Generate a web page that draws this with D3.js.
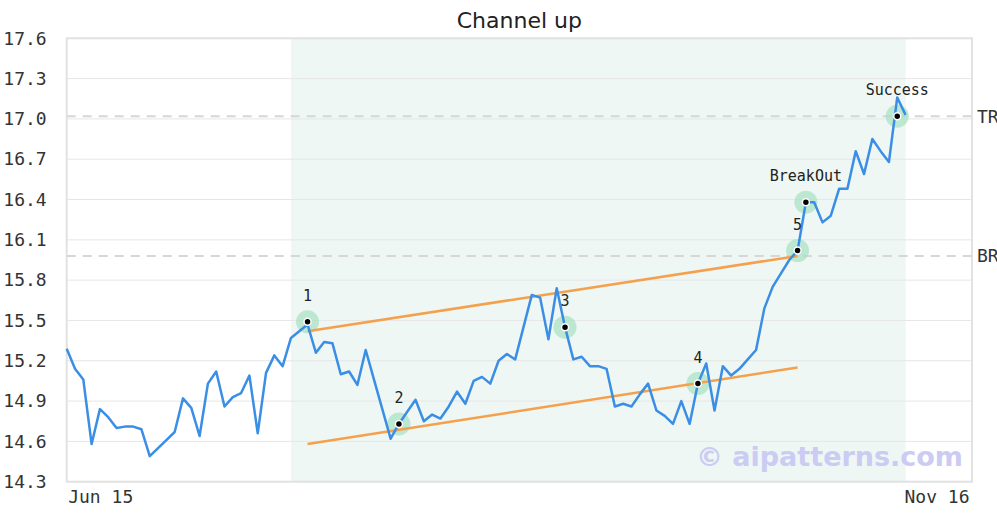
<!DOCTYPE html>
<html>
<head>
<meta charset="utf-8">
<script src="https://cdn.jsdelivr.net/npm/d3@7.9.0/dist/d3.min.js"></script>
<style>
  body { margin: 0; background: #fff; }
  svg { display: block; }
</style>
</head>
<body>
<svg id="chart" width="997" height="522"></svg>
<script>
// ---- data ----
const prices = [
  15.29, 15.14, 15.06, 14.58, 14.84, 14.78, 14.70, 14.71, 14.71, 14.69,
  14.49, 14.55, 14.61, 14.67, 14.92, 14.85, 14.64, 15.03, 15.12, 14.86,
  14.93, 14.96, 15.09, 14.66, 15.11, 15.24, 15.16, 15.37, 15.42, 15.47,
  15.26, 15.34, 15.33, 15.10, 15.12, 15.02, 15.28, 15.06, 14.84, 14.62,
  14.73, 14.82, 14.91, 14.75, 14.80, 14.77, 14.86, 14.97, 14.88, 15.05,
  15.08, 15.03, 15.20, 15.25, 15.21, 15.45, 15.69, 15.67, 15.36, 15.74,
  15.45, 15.21, 15.23, 15.16, 15.16, 15.14, 14.86, 14.88, 14.86, 14.95,
  15.03, 14.83, 14.79, 14.73, 14.90, 14.73, 15.03, 15.18, 14.83, 15.16,
  15.09, 15.14, 15.21, 15.28, 15.59, 15.75, 15.85, 15.95, 16.02, 16.38,
  16.38, 16.23, 16.28, 16.48, 16.48, 16.76, 16.59, 16.85, 16.76, 16.68,
  17.16, 17.03
];

const yTicks = [14.3, 14.6, 14.9, 15.2, 15.5, 15.8, 16.1, 16.4, 16.7, 17.0, 17.3, 17.6];
const xTickIdx = [0, 109];
const xTickLabels = ["Jun 15", "Nov 16"];

const pointLabels = ["1", "2", "3", "4", "5", "BreakOut", "Success"];
const pointIdx = [29, 40, 60, 76, 88, 89, 100];
const pointVals = [15.49, 14.73, 15.45, 15.03, 16.02, 16.38, 17.02];

const upperLine = [[29, 15.42], [88, 15.98]];
const lowerLine = [[29, 14.58], [88, 15.15]];

const levelNames = ["TR", "BR"];
const levelVals = [17.02, 15.98];

const patternSpan = [27, 101];

// ---- layout ----
const W = 997, H = 522;
const margin = { top: 38.3, right: 25, bottom: 40.3, left: 66.7 };
const svg = d3.select("#chart");

const x = d3.scaleLinear().domain([0, 109]).range([margin.left, W - margin.right]);
const y = d3.scaleLinear().domain([14.3, 17.6]).range([H - margin.bottom, margin.top]);

const mono = "'DejaVu Sans Mono', monospace";

// shaded pattern zone
svg.append("rect")
  .attr("x", x(patternSpan[0]))
  .attr("y", y(17.6))
  .attr("width", x(patternSpan[1]) - x(patternSpan[0]))
  .attr("height", y(14.3) - y(17.6))
  .attr("fill", "#eef7f3");

// horizontal grid
svg.append("g")
  .selectAll("line")
  .data(yTicks)
  .join("line")
  .attr("x1", x(0)).attr("x2", x(109))
  .attr("y1", d => y(d)).attr("y2", d => y(d))
  .attr("stroke", "#e6e6e6")
  .attr("stroke-width", 1);

// plot frame
svg.append("rect")
  .attr("x", x(0)).attr("y", y(17.6))
  .attr("width", x(109) - x(0))
  .attr("height", y(14.3) - y(17.6))
  .attr("fill", "none")
  .attr("stroke", "#e2e2e2")
  .attr("stroke-width", 2);

// y axis
const yAxis = svg.append("g")
  .attr("transform", `translate(${margin.left},0)`)
  .call(d3.axisLeft(y).tickValues(yTicks).tickFormat(d3.format(".1f")).tickSize(0).tickPadding(20));
yAxis.select(".domain").remove();
yAxis.selectAll("text")
  .attr("font-family", mono).attr("font-size", 18).attr("fill", "#333");

// x axis
const xAxis = svg.append("g")
  .attr("transform", `translate(0,${H - margin.bottom})`)
  .call(d3.axisBottom(x).tickValues(xTickIdx).tickFormat((d, i) => xTickLabels[i]).tickSize(0).tickPadding(9));
xAxis.select(".domain").remove();
xAxis.selectAll("text")
  .attr("font-family", mono).attr("font-size", 18).attr("fill", "#333")
  .attr("text-anchor", (d, i) => i === 0 ? "start" : "end")
  .attr("dx", (d, i) => i === 0 ? 1 : -3);

// target / breakout levels
levelVals.forEach((v, i) => {
  svg.append("line")
    .attr("x1", x(0)).attr("x2", x(109))
    .attr("y1", y(v)).attr("y2", y(v))
    .attr("stroke", "#d6d6d6")
    .attr("stroke-width", 2)
    .attr("stroke-dasharray", "9,7");
  svg.append("text")
    .attr("x", x(109) + 5)
    .attr("y", y(v))
    .attr("dy", "0.35em")
    .attr("font-family", mono).attr("font-size", 18).attr("fill", "#333")
    .text(levelNames[i]);
});

// watermark
svg.append("text")
  .attr("x", 963).attr("y", 466)
  .attr("text-anchor", "end")
  .attr("font-family", "'DejaVu Sans', sans-serif")
  .attr("font-weight", "bold")
  .attr("font-size", 27)
  .attr("fill", "#cbcbf4")
  .text("© aipatterns.com");

// halos
const pts = pointIdx.map((d, i) => ({ i: d, v: pointVals[i], label: pointLabels[i] }));
svg.append("g")
  .selectAll("circle")
  .data(pts)
  .join("circle")
  .attr("cx", d => x(d.i)).attr("cy", d => y(d.v))
  .attr("r", 11.5)
  .attr("fill", "#a6dfc2")
  .attr("opacity", 0.7);

// channel lines
const seg = d3.line().x(d => x(d[0])).y(d => y(d[1]));
[upperLine, lowerLine].forEach(l => {
  svg.append("path")
    .attr("d", seg(l))
    .attr("fill", "none")
    .attr("stroke", "#f5a04c")
    .attr("stroke-width", 2.5);
});

// price line
svg.append("path")
  .datum(prices)
  .attr("d", d3.line().x((d, i) => x(i)).y(d => y(d)))
  .attr("fill", "none")
  .attr("stroke", "#3a8ee6")
  .attr("stroke-width", 2.5)
  .attr("stroke-linejoin", "round");

// dots
svg.append("g")
  .selectAll("circle")
  .data(pts)
  .join("circle")
  .attr("cx", d => x(d.i)).attr("cy", d => y(d.v))
  .attr("r", 3.5)
  .attr("fill", "#000")
  .attr("stroke", "#fff")
  .attr("stroke-width", 1.5);

// point labels
svg.append("g")
  .selectAll("text")
  .data(pts)
  .join("text")
  .attr("x", d => x(d.i)).attr("y", d => y(d.v) - 21)
  .attr("text-anchor", "middle")
  .attr("font-family", mono).attr("font-size", 15).attr("fill", "#222")
  .text(d => d.label);

// title
svg.append("text")
  .attr("x", (x(0) + x(109)) / 2).attr("y", 28)
  .attr("text-anchor", "middle")
  .attr("font-family", "'DejaVu Sans', sans-serif")
  .attr("font-size", 22).attr("fill", "#222")
  .text("Channel up");
</script>
</body>
</html>
